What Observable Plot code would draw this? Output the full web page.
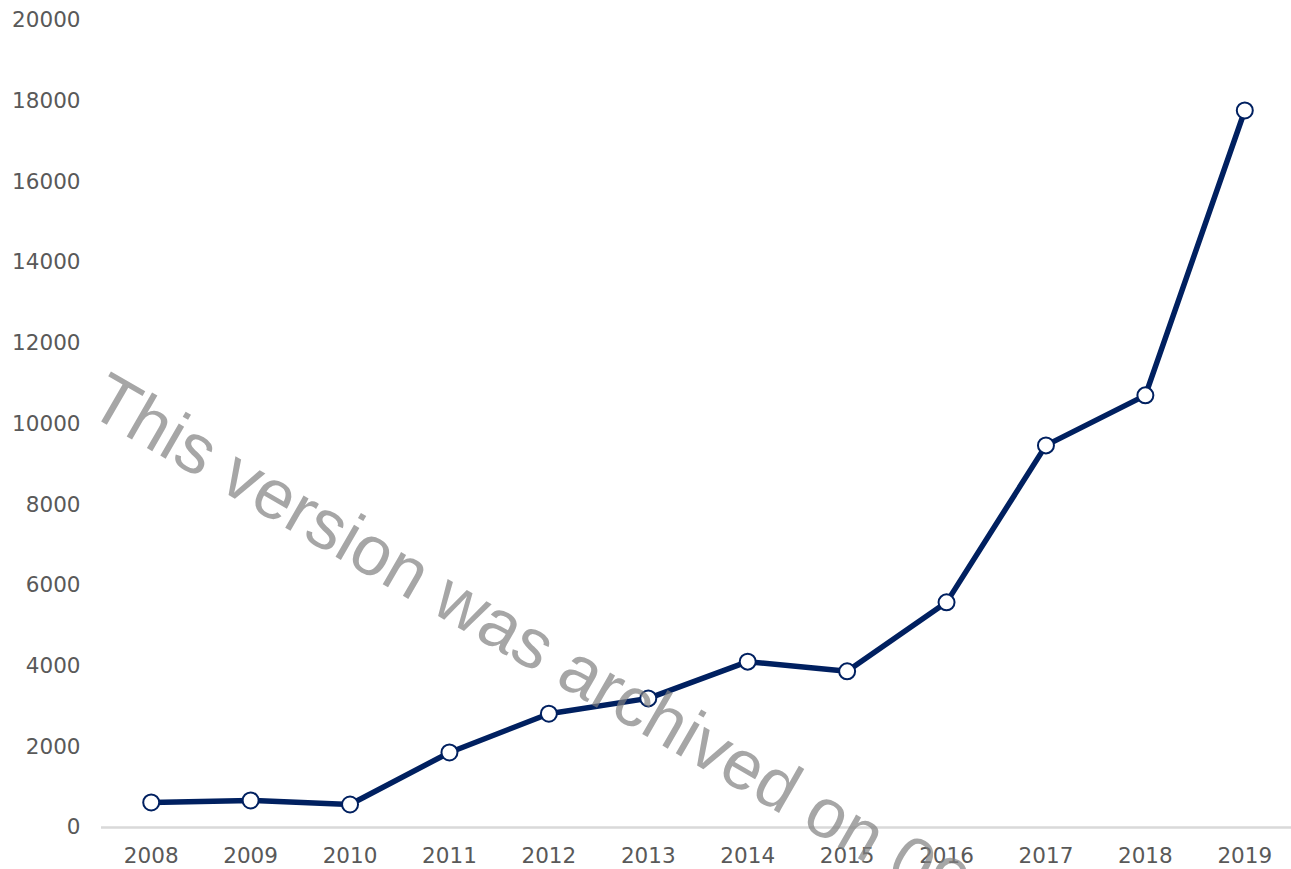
<!DOCTYPE html>
<html>
<head>
<meta charset="utf-8">
<script src="https://cdn.jsdelivr.net/npm/d3@7"></script>
<script src="https://cdn.jsdelivr.net/npm/@observablehq/plot@0.6"></script>
<style>
  html, body { margin: 0; padding: 0; background: #fff; }
  #chart svg { display: block; }
</style>
</head>
<body>
<div id="chart"></div>
<script>
const years = ["2008","2009","2010","2011","2012","2013","2014","2015","2016","2017","2018","2019"];
const values = [620, 670, 570, 1860, 2820, 3200, 4110, 3870, 5580, 9470, 10710, 17770];
const yTicks = [0, 2000, 4000, 6000, 8000, 10000, 12000, 14000, 16000, 18000, 20000];
const watermark = ["This version was archived on 09/03/2021"];

const data = years.map((y, i) => ({year: y, value: values[i]}));
const font = "DejaVu Sans, sans-serif";

const chart = Plot.plot({
  width: 1291,
  height: 869,
  marginLeft: 101,
  marginRight: 0,
  marginTop: 20,
  marginBottom: 42,
  style: {fontFamily: font, fontSize: "21.5px", color: "#595959", background: "#fff"},
  x: {type: "point", domain: years, padding: 0.5, round: false, range: [101, 1294], label: null},
  y: {domain: [0, 20000], label: null},
  marks: [
    Plot.axisY({ticks: yTicks, tickSize: 0, tickPadding: 21, tickFormat: d => String(d), fontSize: 21.5, fill: "#595959", label: null}),
    Plot.axisX({tickSize: 0, tickPadding: 20, fontSize: 21.5, fill: "#595959", label: null}),
    Plot.ruleY([0], {stroke: "#d9d9d9", strokeWidth: 2.5}),
    Plot.line(data, {x: "year", y: "value", stroke: "#002060", strokeWidth: 5.5, strokeLinejoin: "round"}),
    Plot.dot(data, {x: "year", y: "value", r: 8, fill: "#fff", stroke: "#002060", strokeWidth: 2}),
    Plot.text(watermark, {frameAnchor: "top-left", dx: -16, dy: 392, text: d => d, rotate: 30, textAnchor: "start", lineAnchor: "bottom", fontSize: 70, fill: "#808080", fillOpacity: 0.7, fontFamily: "Liberation Sans, Arial, sans-serif"})
  ]
});
document.getElementById("chart").appendChild(chart);
</script>
</body>
</html>
